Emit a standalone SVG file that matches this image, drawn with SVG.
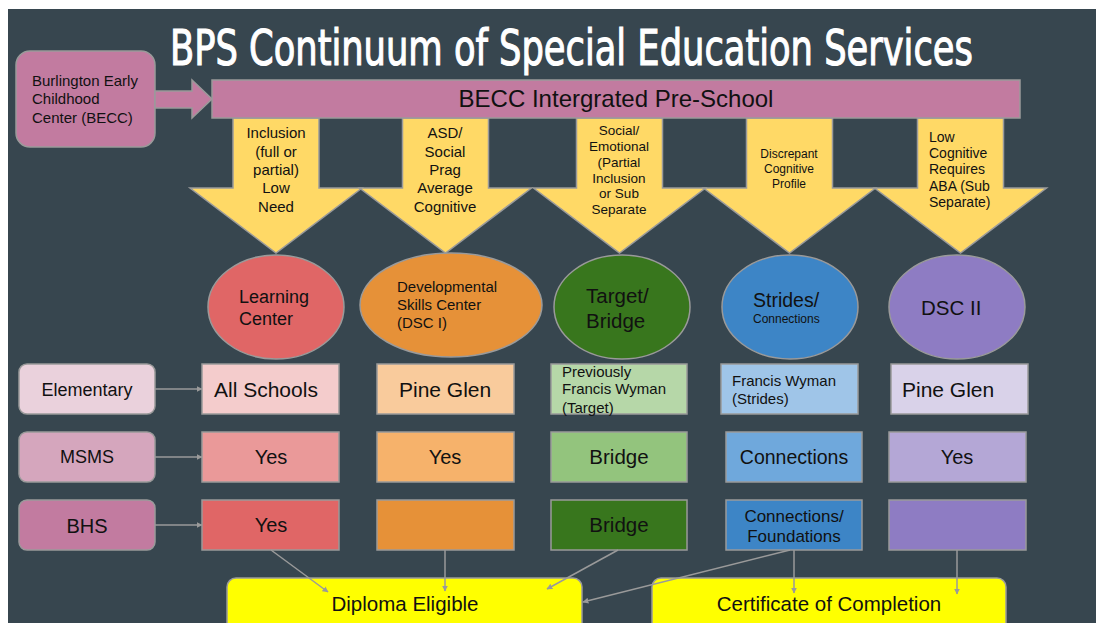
<svg xmlns="http://www.w3.org/2000/svg" width="1096" height="623" viewBox="0 0 1096 623">
<defs>
<style>
.bd{stroke:#9a9a9a;stroke-width:1.5}
.t{font-family:"Liberation Sans",Arial,sans-serif;fill:#111}
.c{text-anchor:middle}
.ya{fill:#ffd966;stroke:#9a9a9a;stroke-width:1.5}
.cn{stroke:#9a9a9a;stroke-width:1.5;fill:none;marker-end:url(#ah)}
</style>
<marker id="ah" viewBox="0 0 10 10" refX="9" refY="5" markerWidth="6" markerHeight="6" orient="auto" markerUnits="userSpaceOnUse">
<path d="M0,0 L10,5 L0,10 z" fill="#9a9a9a"/>
</marker>
</defs>
<rect x="0" y="0" width="1096" height="623" fill="#ffffff"/>
<rect x="8" y="9" width="1088" height="614" fill="#37464f"/>
<text id="title" transform="translate(170,65) scale(0.7,1)" x="0" y="0" font-family="'DejaVu Sans Condensed','Liberation Sans Narrow','Liberation Sans',sans-serif" font-size="50" fill="#ffffff" stroke="#ffffff" stroke-width="1.1" textLength="1147" lengthAdjust="spacingAndGlyphs">BPS Continuum of Special Education Services</text>

<g id="becc">
<rect class="bd" x="16" y="51" width="139" height="96" rx="14" fill="#c27ba0"/>
<text class="t" font-size="15" x="32" y="86">Burlington Early</text>
<text class="t" font-size="15" x="32" y="104">Childhood</text>
<text class="t" font-size="15" x="32" y="123">Center (BECC)</text>
</g>
<g id="becc-arrow">
<polygon class="bd" fill="#c27ba0" points="155,91 192,91 192,80 212,99 192,118 192,108 155,108"/>
</g>

<g id="need-arrows">
<polygon class="ya" points="233,118 319,118 319,188 362,188 276,253 190,188 233,188"/>
<polygon class="ya" points="402.5,118 488.5,118 488.5,188 531.5,188 445.5,253 359.5,188 402.5,188"/>
<polygon class="ya" points="576.5,118 662.5,118 662.5,188 705.5,188 619.5,253 533.5,188 576.5,188"/>
<polygon class="ya" points="746.5,118 832.5,118 832.5,188 875.5,188 789.5,253 703.5,188 746.5,188"/>
<polygon class="ya" points="917.5,118 1003.5,118 1003.5,188 1046.5,188 960.5,253 874.5,188 917.5,188"/>
<g class="t c" font-size="15">
<text x="276" y="138">Inclusion</text><text x="276" y="157">(full or</text><text x="276" y="175">partial)</text><text x="276" y="193">Low</text><text x="276" y="212">Need</text>
<text x="445" y="138">ASD/</text><text x="445" y="157">Social</text><text x="445" y="175">Prag</text><text x="445" y="193">Average</text><text x="445" y="212">Cognitive</text>
</g>
<g class="t c" font-size="13.5">
<text x="619" y="135">Social/</text><text x="619" y="151">Emotional</text><text x="619" y="167">(Partial</text><text x="619" y="183">Inclusion</text><text x="619" y="198">or Sub</text><text x="619" y="214">Separate</text>
</g>
<g class="t c" font-size="12">
<text x="789" y="158">Discrepant</text><text x="789" y="173">Cognitive</text><text x="789" y="188">Profile</text>
</g>
<g class="t" font-size="14">
<text x="929" y="142">Low</text><text x="929" y="158">Cognitive</text><text x="929" y="174">Requires</text><text x="929" y="191">ABA (Sub</text><text x="929" y="207">Separate)</text>
</g>
</g>

<g id="preschool">
<rect class="bd" x="212" y="80" width="808" height="38" fill="#c27ba0"/>
<text class="t c" font-size="24" x="616" y="107">BECC Intergrated Pre-School</text>
</g>

<g id="learning-center">
<ellipse class="bd" cx="276" cy="307" rx="68" ry="52" fill="#e06666"/>
<text class="t" font-size="18" x="239" y="303">Learning</text>
<text class="t" font-size="18" x="239" y="325">Center</text>
</g>
<g id="dsc1">
<ellipse class="bd" cx="451" cy="305" rx="91" ry="52" fill="#e69138"/>
<text class="t" font-size="15" x="397" y="292">Developmental</text>
<text class="t" font-size="15" x="397" y="310">Skills Center</text>
<text class="t" font-size="15" x="397" y="328">(DSC I)</text>
</g>
<g id="target-bridge">
<ellipse class="bd" cx="622" cy="307" rx="68" ry="52" fill="#38761d"/>
<text class="t" font-size="20.5" x="586" y="303">Target/</text>
<text class="t" font-size="20.5" x="586" y="328">Bridge</text>
</g>
<g id="strides">
<ellipse class="bd" cx="790" cy="307" rx="68" ry="52" fill="#3d85c6"/>
<text class="t" font-size="19.5" x="753" y="307">Strides/</text>
<text class="t" font-size="12" x="753" y="323">Connections</text>
</g>
<g id="dsc2">
<ellipse class="bd" cx="957" cy="307" rx="68" ry="52" fill="#8e7cc3"/>
<text class="t" font-size="20.5" x="921" y="315">DSC II</text>
</g>

<g id="row-elementary">
<rect class="bd" x="19" y="364" width="136" height="50" rx="8" fill="#ead1dc"/>
<text class="t c" font-size="18" x="87" y="396">Elementary</text>
</g>
<g id="row-msms">
<rect class="bd" x="19" y="432" width="136" height="50" rx="8" fill="#d5a6bd"/>
<text class="t c" font-size="18" x="87" y="463">MSMS</text>
</g>
<g id="row-bhs">
<rect class="bd" x="19" y="500" width="136" height="50" rx="8" fill="#c27ba0"/>
<text class="t c" font-size="20" x="87" y="533">BHS</text>
</g>

<g id="elem-col1"><rect class="bd" x="202" y="364" width="137" height="50" fill="#f4cccc"/><text class="t" font-size="21" x="214" y="397">All Schools</text></g>
<g id="elem-col2"><rect class="bd" x="377" y="364" width="137" height="50" fill="#f9cb9c"/><text class="t" font-size="21" x="399" y="397">Pine Glen</text></g>
<g id="elem-col3"><rect class="bd" x="551" y="364" width="136" height="50" fill="#b6d7a8"/><text class="t" font-size="15" x="562" y="377">Previously</text><text class="t" font-size="15" x="562" y="394">Francis Wyman</text><text class="t" font-size="15" x="562" y="413">(Target)</text></g>
<g id="elem-col4"><rect class="bd" x="721" y="364" width="137" height="50" fill="#9fc5e8"/><text class="t" font-size="15" x="732" y="386">Francis Wyman</text><text class="t" font-size="15" x="732" y="404">(Strides)</text></g>
<g id="elem-col5"><rect class="bd" x="891" y="364" width="137" height="50" fill="#d9d2e9"/><text class="t" font-size="21" x="902" y="397">Pine Glen</text></g>

<g id="msms-col1"><rect class="bd" x="202" y="432" width="137" height="50" fill="#ea9999"/><text class="t c" font-size="20" x="271" y="464">Yes</text></g>
<g id="msms-col2"><rect class="bd" x="377" y="432" width="137" height="50" fill="#f6b26b"/><text class="t c" font-size="20" x="445" y="464">Yes</text></g>
<g id="msms-col3"><rect class="bd" x="551" y="432" width="136" height="50" fill="#93c47d"/><text class="t c" font-size="20.5" x="619" y="464">Bridge</text></g>
<g id="msms-col4"><rect class="bd" x="726" y="432" width="136" height="50" fill="#6fa8dc"/><text class="t c" font-size="19.5" x="794" y="464">Connections</text></g>
<g id="msms-col5"><rect class="bd" x="889" y="432" width="137" height="50" fill="#b4a7d6"/><text class="t c" font-size="20" x="957" y="464">Yes</text></g>

<g id="bhs-col1"><rect class="bd" x="202" y="500" width="137" height="50" fill="#e06666"/><text class="t c" font-size="20" x="271" y="532">Yes</text></g>
<g id="bhs-col2"><rect class="bd" x="377" y="500" width="137" height="50" fill="#e69138"/></g>
<g id="bhs-col3"><rect class="bd" x="551" y="500" width="136" height="50" fill="#38761d"/><text class="t c" font-size="20.5" x="619" y="532">Bridge</text></g>
<g id="bhs-col4"><rect class="bd" x="726" y="500" width="136" height="50" fill="#3d85c6"/><text class="t c" font-size="17" x="794" y="522">Connections/</text><text class="t c" font-size="17" x="794" y="542">Foundations</text></g>
<g id="bhs-col5"><rect class="bd" x="889" y="500" width="137" height="50" fill="#8e7cc3"/></g>

<g id="diploma">
<rect class="bd" x="227" y="578" width="355" height="60" rx="9" fill="#ffff00"/>
<text class="t c" font-size="20.5" x="405" y="611">Diploma Eligible</text>
</g>
<g id="certificate">
<rect class="bd" x="652" y="578" width="354" height="60" rx="9" fill="#ffff00"/>
<text class="t c" font-size="20.5" x="829" y="611">Certificate of Completion</text>
</g>

<g id="connectors">
<line class="cn" x1="155" y1="389" x2="202" y2="389"/>
<line class="cn" x1="155" y1="457" x2="202" y2="457"/>
<line class="cn" x1="155" y1="525" x2="202" y2="525"/>
<line class="cn" x1="271" y1="550" x2="328" y2="592"/>
<line class="cn" x1="445" y1="550" x2="445" y2="591"/>
<line class="cn" x1="618" y1="550" x2="547" y2="589"/>
<line class="cn" x1="790" y1="550" x2="583" y2="602"/>
<line class="cn" x1="794" y1="550" x2="794" y2="593"/>
<line class="cn" x1="957" y1="550" x2="957" y2="594"/>
</g>
</svg>
